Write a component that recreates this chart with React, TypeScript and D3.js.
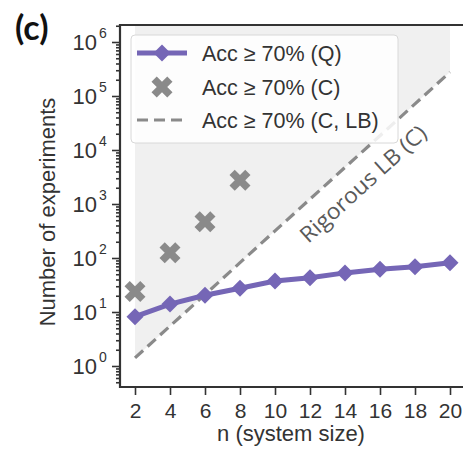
import React, { useRef, useEffect } from 'react';
import * as d3 from 'd3';

// system size n
const sizes = [2, 4, 6, 8, 10, 12, 14, 16, 18, 20];
// Acc >= 70% (Q)
const quantum = [8.2, 14, 20.4, 27.5, 37.5, 43, 53, 62, 69, 82];
// Acc >= 70% (C), only measured up to n = 8
const classicalN = [2, 4, 6, 8];
const classical = [24, 125, 470, 2760];
// Acc >= 70% (C, LB)
const lowerBound = [1.41, 5.5, 21, 82, 318, 1230, 4760, 18400, 71400, 277000];

const xTicks = [2, 4, 6, 8, 10, 12, 14, 16, 18, 20];
const yExps = [0, 1, 2, 3, 4, 5, 6];
const legendLabels = ['Acc ≥ 70% (Q)', 'Acc ≥ 70% (C)', 'Acc ≥ 70% (C, LB)'];

const W = 463;
const H = 454;
const left = 120, top = 25, bottom = 387;
const font = '"Liberation Sans", Arial, sans-serif';
const purple = '#7566b6';
const grey = '#8a8a8a';

// filled "X" marker, unit size
const xMarker = [
  [-0.25, -0.5], [0, -0.25], [0.25, -0.5], [0.5, -0.25], [0.25, 0], [0.5, 0.25],
  [0.25, 0.5], [0, 0.25], [-0.25, 0.5], [-0.5, 0.25], [-0.25, 0], [-0.5, -0.25],
];
const xPath = (s: number) => 'M' + xMarker.map(p => `${p[0] * s},${p[1] * s}`).join('L') + 'Z';
const diamond = (s: number) => `M0,${-s}L${s},0L0,${s}L${-s},0Z`;

const Chart = () => {
  const ref = useRef<SVGSVGElement>(null);

  useEffect(() => {
    const svg = d3.select(ref.current);
    svg.selectAll('*').remove();

    const x = d3.scaleLinear().domain([2, 20]).range([135, 450]);
    const y = d3.scaleLog().domain([1, 1e6]).range([366, 42]);

    // shaded region above the lower bound
    const shade = sizes.map((n, i) => [x(n), y(lowerBound[i])]);
    shade.push([x(20), top], [x(2), top]);
    svg.append('path')
      .attr('d', 'M' + shade.map(p => p.join(',')).join('L') + 'Z')
      .attr('fill', '#f0f0f0');

    // lower bound dashed line
    const line = d3.line<number>().x((d, i) => x(sizes[i])).y(d => y(d));
    svg.append('path')
      .attr('d', line(lowerBound))
      .attr('fill', 'none')
      .attr('stroke', grey)
      .attr('stroke-width', 3.2)
      .attr('stroke-dasharray', '11,6');

    // rotated annotation along the bound
    const ang = Math.atan2(y(lowerBound[9]) - y(lowerBound[0]), x(20) - x(2)) * 180 / Math.PI;
    const nAt = 14.1;
    const lbAt = Math.pow(10, Math.log10(lowerBound[0]) + (nAt - 2) / 18 * (Math.log10(lowerBound[9]) - Math.log10(lowerBound[0])));
    svg.append('g')
      .attr('transform', `translate(${x(nAt)},${y(lbAt)}) rotate(${ang}) translate(0,32)`)
      .append('text')
      .attr('text-anchor', 'middle')
      .attr('font-family', '"Open Sans", Lato, sans-serif')
      .attr('font-size', 22)
      .attr('textLength', 162)
      .attr('lengthAdjust', 'spacingAndGlyphs')
      .attr('fill', '#5a5a5a')
      .text('Rigorous LB (C)');

    // quantum series
    svg.append('path')
      .attr('d', line(quantum))
      .attr('fill', 'none')
      .attr('stroke', purple)
      .attr('stroke-width', 5);
    svg.selectAll('.q')
      .data(quantum)
      .enter()
      .append('path')
      .attr('transform', (d, i) => `translate(${x(sizes[i])},${y(d)})`)
      .attr('d', diamond(8.5))
      .attr('fill', purple);

    // classical series
    svg.selectAll('.c')
      .data(classical)
      .enter()
      .append('path')
      .attr('transform', (d, i) => `translate(${x(classicalN[i])},${y(d)})`)
      .attr('d', xPath(21))
      .attr('fill', grey);

    // y axis: major and minor ticks
    const minor: number[] = [];
    for (let k = -1; k <= 6; k++) {
      for (let m = 2; m <= 9; m++) {
        const v = m * Math.pow(10, k);
        if (y(v) > top && y(v) < bottom) minor.push(v);
      }
    }
    const yAxisMinor = svg.append('g')
      .attr('transform', `translate(${left},0)`)
      .call(d3.axisLeft(y).tickValues(minor).tickSize(4).tickFormat(() => ''));
    const yAxisMajor = svg.append('g')
      .attr('transform', `translate(${left},0)`)
      .call(d3.axisLeft(y).tickValues(yExps.map(e => Math.pow(10, e))).tickSize(8).tickFormat(() => ''));
    [yAxisMinor, yAxisMajor].forEach(g => {
      g.select('.domain').remove();
      g.selectAll('line').attr('stroke', '#333').attr('stroke-width', 1.6);
    });
    yExps.forEach(e => {
      svg.append('text')
        .attr('x', 97)
        .attr('y', y(Math.pow(10, e)) + 7.5)
        .attr('text-anchor', 'end')
        .attr('font-family', font)
        .attr('font-size', 22)
        .attr('fill', '#333')
        .text('10');
      svg.append('text')
        .attr('x', 99)
        .attr('y', y(Math.pow(10, e)) - 4)
        .attr('font-family', font)
        .attr('font-size', 14)
        .attr('fill', '#333')
        .text(String(e));
    });

    // x axis
    const xAxis = svg.append('g')
      .attr('transform', `translate(0,${bottom})`)
      .call(d3.axisBottom(x).tickValues(xTicks).tickSize(8).tickPadding(8).tickFormat(d3.format('d')));
    xAxis.select('.domain').remove();
    xAxis.selectAll('line').attr('stroke', '#333').attr('stroke-width', 1.6);
    xAxis.selectAll('text')
      .attr('font-family', font)
      .attr('font-size', 21)
      .attr('fill', '#333');

    // spines
    svg.append('path')
      .attr('d', `M${W},${top}H${left}V${bottom}H${W}`)
      .attr('fill', 'none')
      .attr('stroke', '#333')
      .attr('stroke-width', 2.2);

    // legend
    const lg = svg.append('g');
    lg.append('rect')
      .attr('x', 131).attr('y', 35).attr('width', 267).attr('height', 108).attr('rx', 4)
      .attr('fill', 'white').attr('fill-opacity', 0.85)
      .attr('stroke', '#d8d8d8').attr('stroke-width', 1);
    const rows = [53, 87, 120];
    lg.append('line')
      .attr('x1', 137).attr('x2', 187).attr('y1', rows[0]).attr('y2', rows[0])
      .attr('stroke', purple).attr('stroke-width', 5);
    lg.append('path').attr('transform', `translate(162,${rows[0]})`).attr('d', diamond(8.5)).attr('fill', purple);
    lg.append('path').attr('transform', `translate(162,${rows[1]})`).attr('d', xPath(21)).attr('fill', grey);
    lg.append('line')
      .attr('x1', 137).attr('x2', 187).attr('y1', rows[2]).attr('y2', rows[2])
      .attr('stroke', grey).attr('stroke-width', 3.2).attr('stroke-dasharray', '11,6');
    lg.selectAll('.lt')
      .data(legendLabels)
      .enter()
      .append('text')
      .attr('x', 202)
      .attr('y', (d, i) => rows[i] + 8)
      .attr('font-family', font)
      .attr('font-size', 21.5)
      .attr('fill', '#333')
      .text(d => d);

    // axis titles
    svg.append('text')
      .attr('x', 291).attr('y', 441)
      .attr('text-anchor', 'middle')
      .attr('font-family', font).attr('font-size', 22).attr('fill', '#333')
      .text('n (system size)');
    svg.append('text')
      .attr('transform', 'translate(55,212) rotate(-90)')
      .attr('text-anchor', 'middle')
      .attr('font-family', font).attr('font-size', 22).attr('fill', '#333')
      .text('Number of experiments');

    // panel label
    svg.append('text')
      .attr('x', 15).attr('y', 40)
      .attr('font-family', 'Lato, "Liberation Sans", sans-serif').attr('font-size', 34).attr('font-weight', 'bold').attr('fill', '#111')
      .text('(c)');
  }, []);

  return (
    <svg ref={ref} width={W} height={H}
      style={{ position: 'absolute', left: 0, top: 0, background: 'white' }} />
  );
};

export default function App() {
  return <Chart />;
}
